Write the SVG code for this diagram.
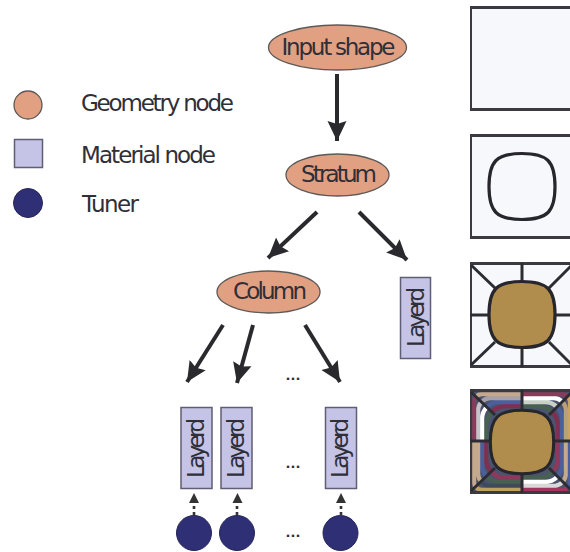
<svg xmlns="http://www.w3.org/2000/svg" width="570" height="552" viewBox="0 0 570 552">
<style>
text{font-family:"DejaVu Sans","Liberation Sans",sans-serif;fill:#2f2f38}
.lbl{font-size:23px;text-anchor:middle}
.leg{font-size:23px}
.geo{fill:#e0a081;stroke:#5c5a58;stroke-width:1.3}
.mat{fill:#c6c4e6;stroke:#5e5e74;stroke-width:1.5}
.tun{fill:#2e2f74;stroke:#26265a;stroke-width:1}
.con{stroke:#2a2a2e;stroke-width:4;fill:none;marker-end:url(#ah)}
.dot{stroke:#333;stroke-width:2.6;stroke-dasharray:3 3;fill:none}
.pan{fill:#f6f8fc;stroke:#3a3a40;stroke-width:3}
.ln{stroke:#2c2c32;stroke-width:3;fill:none}
.sq{stroke:#26262c;stroke-width:3.2}
.dots{font-size:13px;text-anchor:middle;font-weight:bold}
#s use{fill:none;stroke-width:4.4}
</style>
<defs>
<marker id="ah" markerUnits="userSpaceOnUse" markerWidth="24" markerHeight="24" refX="20" refY="11" orient="auto"><path d="M0,1.500 L20,11 L0,20.500 L3,11 Z" fill="#2a2a2e"/></marker>
<path id="q" d="M-33,0 C-33,-12 -31,-21 -26,-26 C-21,-31 -12,-33 0,-33 C12,-33 21,-31 26,-26 C31,-21 33,-12 33,0 C33,12 31,21 26,26 C21,31 12,33 0,33 C-12,33 -21,31 -26,26 C-31,21 -33,12 -33,0Z"/>
<rect id="r1" x="486" y="406" width="72" height="72" rx="20"/>
<rect id="r2" x="482" y="402" width="80" height="80" rx="17"/>
<rect id="r3" x="478" y="398" width="88" height="88" rx="13"/>
<rect id="r4" x="474" y="394" width="96" height="96" rx="8"/>
<rect id="r5" x="470" y="390" width="104" height="104" rx="2"/>
<clipPath id="cp"><rect x="470" y="0" width="100" height="552"/></clipPath>
<clipPath id="a"><path d="M522,442 L470,390 H522Z"/></clipPath>
<clipPath id="b"><path d="M522,442 L574,390 H522Z"/></clipPath>
<clipPath id="c"><path d="M522,442 L574,390 V442Z"/></clipPath>
<clipPath id="d"><path d="M522,442 L574,494 V442Z"/></clipPath>
<clipPath id="e"><path d="M522,442 L574,494 H522Z"/></clipPath>
<clipPath id="f"><path d="M522,442 L470,494 H522Z"/></clipPath>
<clipPath id="g"><path d="M522,442 L470,494 V442Z"/></clipPath>
<clipPath id="h"><path d="M522,442 L470,390 V442Z"/></clipPath>
</defs>
<g id="legend">
<g id="legend-geometry"><circle class="geo" cx="28" cy="105" r="14"/><text class="leg" x="81" y="110.500" textLength="153" lengthAdjust="spacing">Geometry node</text></g>
<g id="legend-material"><rect class="mat" x="14.500" y="139.500" width="28" height="28"/><text class="leg" x="81" y="162.500" textLength="135" lengthAdjust="spacing">Material node</text></g>
<g id="legend-tuner"><circle class="tun" cx="28" cy="203" r="14.500"/><text class="leg" x="82" y="211.500" textLength="57" lengthAdjust="spacing">Tuner</text></g>
</g>
<g id="connectors">
<path class="con" d="M337,74 V141"/>
<path class="con" d="M317,212 L268,258"/>
<path class="con" d="M359,212 L407,260"/>
<path class="con" d="M223,325 L187,382"/>
<path class="con" d="M253,325 L237,383"/>
<path class="con" d="M305,325 L340,382"/>
<g id="tuner-links">
<path class="dot" d="M194,515 V503"/><path fill="#333" d="M194,493 L199,503 H189Z"/>
<path class="dot" d="M237,515 V503"/><path fill="#333" d="M237.500,493 L242.500,503 H232.500Z"/>
<path class="dot" d="M341,515 V503"/><path fill="#333" d="M341,493 L346,503 H336Z"/>
</g>
</g>
<g id="input-shape"><ellipse class="geo" cx="337.500" cy="47.500" rx="69" ry="22.500"/><text class="lbl" x="338.500" y="55" textLength="114" lengthAdjust="spacing">Input shape</text></g>
<g id="stratum"><ellipse class="geo" cx="337.500" cy="175" rx="51.500" ry="21"/><text class="lbl" x="339" y="182" textLength="76" lengthAdjust="spacing">Stratum</text></g>
<g id="column"><ellipse class="geo" cx="268.500" cy="292" rx="51.500" ry="21"/><text class="lbl" x="270" y="298.500" textLength="74" lengthAdjust="spacing">Column</text></g>
<g id="layer-a"><rect class="mat" x="400.500" y="277.500" width="30" height="81"/><text class="lbl" transform="translate(424,317) rotate(-90)" textLength="60" lengthAdjust="spacing">Layerd</text></g>
<g id="layer-b"><rect class="mat" x="181" y="407.500" width="31" height="81"/><text class="lbl" transform="translate(203.500,448) rotate(-90)" textLength="60" lengthAdjust="spacing">Layerd</text></g>
<g id="layer-c"><rect class="mat" x="221" y="407.500" width="31" height="81"/><text class="lbl" transform="translate(243.500,448) rotate(-90)" textLength="60" lengthAdjust="spacing">Layerd</text></g>
<g id="layer-d"><rect class="mat" x="325.500" y="407.500" width="31" height="81"/><text class="lbl" transform="translate(348,448) rotate(-90)" textLength="60" lengthAdjust="spacing">Layerd</text></g>
<g id="tuner-a"><circle class="tun" cx="194" cy="533" r="17.500"/></g>
<g id="tuner-b"><circle class="tun" cx="237" cy="533" r="17.500"/></g>
<g id="tuner-c"><circle class="tun" cx="340.500" cy="533" r="17.500"/></g>
<text class="dots" x="293" y="380">...</text>
<text class="dots" x="293" y="468">...</text>
<text class="dots" x="293" y="537">...</text>
<g clip-path="url(#cp)">
<rect class="pan" x="470.500" y="7.500" width="110" height="102"/>
<rect class="pan" x="470.500" y="135.500" width="110" height="102"/>
<use href="#q" transform="translate(522,186.500)" fill="none" stroke="#26262c" stroke-width="3.200"/>
<rect class="pan" x="470.500" y="263.500" width="110" height="103"/>
<path class="ln" d="M522,263 V285 M522,344 V367 M470,315 H490 M554,315 H570 M471,265 L495,288 M572,265 L549,288 M471,365 L495,342 M572,365 L549,342"/>
<use href="#q" transform="translate(522,314.500)" fill="#b08d4c" class="sq"/>
<rect x="470" y="390" width="104" height="104" fill="#4a5470"/>
<g id="s">
<g clip-path="url(#a)"><use href="#r1" stroke="#7f2f4f"/><use href="#r2" stroke="#4b5f9c"/><use href="#r3" stroke="#a8a0a8"/><use href="#r4" stroke="#c4a98c"/><use href="#r5" stroke="#3f4a5c"/></g>
<g clip-path="url(#b)"><use href="#r1" stroke="#48604f"/><use href="#r2" stroke="#c9d0c8"/><use href="#r3" stroke="#ffffff"/><use href="#r4" stroke="#8d3a5a"/><use href="#r5" stroke="#3f4a5c"/></g>
<g clip-path="url(#c)"><use href="#r1" stroke="#7f2f4f"/><use href="#r2" stroke="#4b5f9c"/><use href="#r3" stroke="#b9a078"/><use href="#r4" stroke="#c9a565"/><use href="#r5" stroke="#b08d4c"/></g>
<g clip-path="url(#d)"><use href="#r1" stroke="#8d3a5a"/><use href="#r2" stroke="#4b5f9c"/><use href="#r3" stroke="#c4a98c"/><use href="#r4" stroke="#4b5f9c"/><use href="#r5" stroke="#3f4a5c"/></g>
<g clip-path="url(#e)"><use href="#r1" stroke="#48604f"/><use href="#r2" stroke="#ffffff"/><use href="#r3" stroke="#d8d8d8"/><use href="#r4" stroke="#a3355f"/><use href="#r5" stroke="#a3355f"/></g>
<g clip-path="url(#f)"><use href="#r1" stroke="#8d3a5a"/><use href="#r2" stroke="#48604f"/><use href="#r3" stroke="#3f4a5c"/><use href="#r4" stroke="#bfa060"/><use href="#r5" stroke="#b8973f"/></g>
<g clip-path="url(#g)"><use href="#r1" stroke="#7f2f4f"/><use href="#r2" stroke="#4b5f9c"/><use href="#r3" stroke="#c4a98c"/><use href="#r4" stroke="#c4a98c"/><use href="#r5" stroke="#3f4a5c"/></g>
<g clip-path="url(#h)"><use href="#r1" stroke="#48604f"/><use href="#r2" stroke="#ffffff"/><use href="#r3" stroke="#c9c0c8"/><use href="#r4" stroke="#8d3a5a"/><use href="#r5" stroke="#3f4a5c"/></g>
</g>
<rect x="470.500" y="390.500" width="110" height="102" fill="none" stroke="#3a3a40" stroke-width="3"/>
<path class="ln" d="M522,390 V414 M522,470 V493 M470,441 H492 M552,441 H570 M471,392 L495,415 M572,392 L549,415 M471,491 L495,468 M572,491 L549,468"/>
<use href="#q" transform="translate(522,442) scale(.96)" fill="#b08d4c" class="sq"/>
</g>
</svg>
